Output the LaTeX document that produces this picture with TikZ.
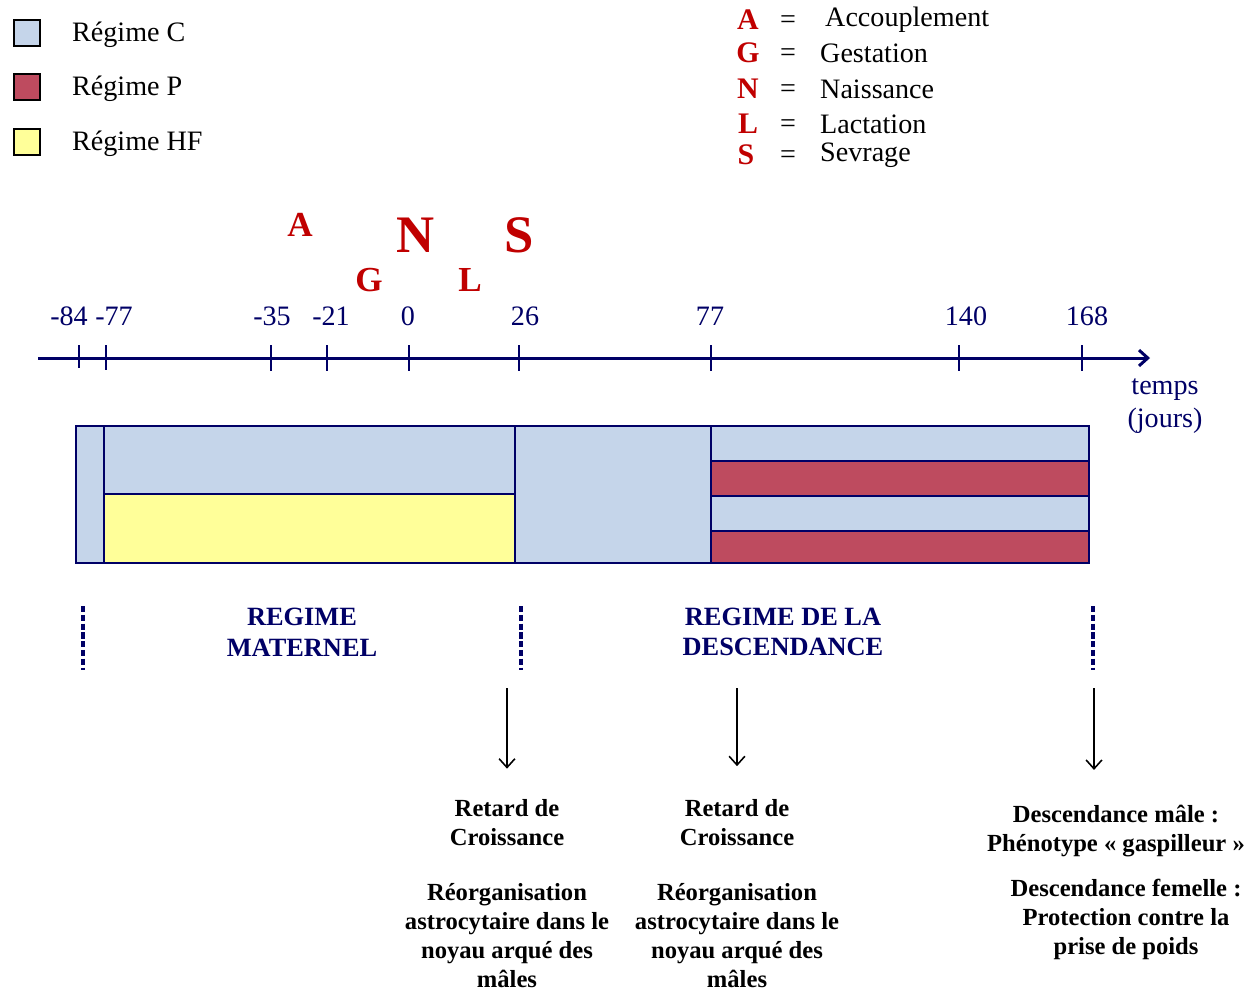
\documentclass[tikz,border=0pt]{standalone}
\usepackage{fontspec}
\setmainfont{Liberation Serif}
\usetikzlibrary{arrows.meta}

\definecolor{navy}{RGB}{0,0,102}
\definecolor{evtred}{RGB}{192,0,0}
\definecolor{regC}{RGB}{197,213,234}
\definecolor{regP}{RGB}{190,75,95}
\definecolor{regHF}{RGB}{255,255,153}

\begin{document}
\begin{tikzpicture}[
  x=0.02cm, y=-0.02cm,
  >={Straight Barb[length=5pt,width=9pt]},
  swatch/.style={draw=black, line width=1.2pt, minimum size=0.52cm, inner sep=0pt},
  legtext/.style={anchor=west, font=\fontsize{16}{19}\selectfont},
  keyletter/.style={text=evtred, font=\bfseries\fontsize{17}{20}\selectfont},
  keytext/.style={anchor=west, font=\fontsize{16}{19}\selectfont},
  evt/.style={text=evtred, font=\bfseries\fontsize{20}{24}\selectfont},
  bigevt/.style={text=evtred, font=\bfseries\fontsize{30}{34}\selectfont},
  ticklabel/.style={text=navy, font=\fontsize{16}{19}\selectfont},
  tickmark/.style={draw=navy, line width=1.6pt},
  bar/.style={draw=navy, line width=1.1pt},
  phase/.style={text=navy, align=center, font=\bfseries\fontsize{15}{17.5}\selectfont},
  limit/.style={draw=navy, line width=2.4pt, dash pattern=on 3.5pt off 1.5pt},
  effect/.style={align=center, font=\bfseries\fontsize{14}{16.5}\selectfont},
  arr/.style={->, line width=0.9pt, black},
]

\useasboundingbox (0,0) rectangle (1253,992);

% --- Legend: diets ---
\node[swatch, fill=regC] (legC) at (27,33) {};
\node[swatch, fill=regP] (legP) at (27,87) {};
\node[swatch, fill=regHF] (legHF) at (27,142) {};
\node[legtext] (txtC) at (66,35) {Régime C};
\node[legtext] (txtP) at (66,89) {Régime P};
\node[legtext] (txtHF) at (66,144) {Régime HF};

% --- Legend: events ---
\node[keyletter] (kA) at (748,20) {A};
\node[keyletter] (kG) at (748,53) {G};
\node[keyletter] (kN) at (748,89) {N};
\node[keyletter] (kL) at (748,124) {L};
\node[keyletter] (kS) at (746,155) {S};
\node (eA) at (788,22) {\fontsize{16}{19}\selectfont =};
\node (eG) at (788,55) {\fontsize{16}{19}\selectfont =};
\node (eN) at (788,91) {\fontsize{16}{19}\selectfont =};
\node (eL) at (788,126) {\fontsize{16}{19}\selectfont =};
\node (eS) at (788,157) {\fontsize{16}{19}\selectfont =};
\node[keytext] (wA) at (819,20) {Accouplement};
\node[keytext] (wG) at (814,53) {Gestation};
\node[keytext] (wN) at (814,89) {Naissance};
\node[keytext] (wL) at (814,124) {Lactation};
\node[keytext] (wS) at (814,155) {Sevrage};

% --- Events above the axis ---
\node[evt] (evA) at (300,225) {A};
\node[bigevt] (evN) at (416,235) {N};
\node[bigevt] (evS) at (519,235) {S};
\node[evt] (evG) at (369,280) {G};
\node[evt] (evL) at (470,280) {L};

% --- Time axis ---
\coordinate (axstart) at (38,358);
\coordinate (axend) at (1150,358);
\draw[navy, line width=1.7pt, ->] (axstart) -- (axend);

\draw[tickmark] (79,345) -- (79,368);
\draw[tickmark] (106,345) -- (106,370);
\draw[tickmark] (271,345) -- (271,371);
\draw[tickmark] (327,345) -- (327,371);
\draw[tickmark] (409,345) -- (409,371);
\draw[tickmark] (519,345) -- (519,371);
\draw[tickmark] (711,345) -- (711,371);
\draw[tickmark] (959,345) -- (959,371);
\draw[tickmark] (1082,345) -- (1082,371);

\node[ticklabel] (l84) at (69,316) {-84};
\node[ticklabel] (l77a) at (114,316) {-77};
\node[ticklabel] (l35) at (272,316) {-35};
\node[ticklabel] (l21) at (331,316) {-21};
\node[ticklabel] (l0) at (408,316) {0};
\node[ticklabel] (l26) at (525,316) {26};
\node[ticklabel] (l77b) at (710,316) {77};
\node[ticklabel] (l140) at (966,316) {140};
\node[ticklabel] (l168) at (1087,316) {168};

\node[ticklabel, align=center, font=\fontsize{16}{19}\selectfont] (unit) at (1165,406)
  {temps\\(jours)};

% --- Diet bars ---
\filldraw[bar, fill=regC] (76,426) rectangle (1089,563);
\filldraw[bar, fill=regHF] (104,494) rectangle (515,563);
\filldraw[bar, fill=regP] (711,461) rectangle (1089,496);
\filldraw[bar, fill=regP] (711,531) rectangle (1089,563);
\draw[bar] (104,426) -- (104,563);
\draw[bar, line width=1.5pt] (515,426) -- (515,563);
\draw[bar, line width=1.5pt] (711,426) -- (711,563);

% --- Period limits ---
\draw[limit] (83,606) -- (83,670);
\draw[limit] (521,606) -- (521,670);
\draw[limit] (1093,606) -- (1093,670);

\node[phase] (matern) at (302,632) {REGIME\\MATERNEL};
\node[phase] (descend) at (783,632) {REGIME DE LA\\DESCENDANCE};

% --- Outcomes ---
\node[effect] (ret1) at (507,823) {Retard de\\Croissance};
\node[effect] (reo1) at (507,936) {Réorganisation\\astrocytaire dans le\\noyau arqué des\\mâles};
\node[effect] (ret2) at (737,823) {Retard de\\Croissance};
\node[effect] (reo2) at (737,936) {Réorganisation\\astrocytaire dans le\\noyau arqué des\\mâles};
\node[effect] (male) at (1116,831) {Descendance mâle :\\Phénotype « gaspilleur »};
\node[effect] (femelle) at (1126,919) {Descendance femelle :\\Protection contre la\\prise de poids};

\coordinate (from1) at (507,688);
\coordinate (from2) at (737,688);
\coordinate (from3) at (1094,688);
\draw[arr, shorten >=0.5cm] (from1) -- (ret1.north);
\draw[arr, shorten >=0.55cm] (from2) -- (ret2.north);
\draw[arr, shorten >=0.58cm] (from3) -- (from3 |- male.north);

\end{tikzpicture}
\end{document}
